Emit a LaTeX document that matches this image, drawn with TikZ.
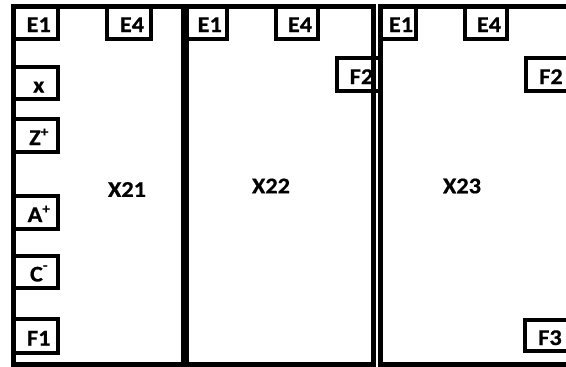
\documentclass[tikz,border=0pt]{standalone}
\usepackage{fontspec}
\newfontfamily\lblfont{Carlito}[FakeStretch=1.08, FakeBold=0.6]
\usetikzlibrary{positioning}
\newcommand\chg[2]{\raisebox{#1}{\fontsize{14}{14}\selectfont #2}}

\begin{document}
\begin{tikzpicture}[
  x=1pt, y=-1pt,
  every node/.style = {font=\lblfont\bfseries\fontsize{22.5}{26}\selectfont},
  port/.style  = {draw, line width=4pt, fill=white, inner sep=0pt,
                  minimum width=44pt, minimum height=33pt,
                  text height=19pt, text depth=0pt,
                  execute at begin node={\hspace*{6pt}}},
  unit/.style  = {draw, line width=5pt, inner sep=0pt},
]
\path[use as bounding box, clip] (0,0) rectangle (566,367);

% ports of X21
\node[port] (e1a) at (35.75,22.5) {E1};
\node[port] (e4a) at (129,22.5) {E4};
\node[port, minimum height=32pt] (xa) at (35.75,83) {x};
\node[port] (za) at (35.75,135.5) {Z\chg{8.5pt}{+}};
\node[port] (aa) at (35.75,212.5) {A\chg{8.5pt}{+}};
\node[port, minimum height=32pt] (ca) at (35.75,272) {C\chg{11.5pt}{-}};
\node[port, minimum height=34pt] (f1a) at (35.75,336) {F1};

% ports of X22
\node[port, minimum width=40.5pt] (e1b) at (206.75,22.5) {E1};
\node[port, minimum width=42pt] (e4b) at (297,22.5) {E4};
\node[port, minimum width=43pt] (f2b) at (358.5,74.5) {F2};

% ports of X23
\node[port, minimum width=36pt] (e1c) at (398,22.5) {E1};
\node[port, minimum width=42pt] (e4c) at (486,22.5) {E4};
\node[port] (f2c) at (548,74.5) {F2};
\node[port, minimum height=31pt] (f3c) at (547,335.5) {F3};

% units
\node[unit, minimum width=170pt, minimum height=358.5pt] (x21) at (98.5,185.25) {};
\node[unit, minimum width=186.5pt, minimum height=358.5pt] (x22) at (279.75,185.25) {};
\node[unit, minimum width=190pt, minimum height=358.5pt] (x23) at (475,185.25) {};

\node (l21) at (127,189.5) {X21};
\node (l22) at (271,186) {X22};
\node (l23) at (462,186) {X23};
\end{tikzpicture}
\end{document}
